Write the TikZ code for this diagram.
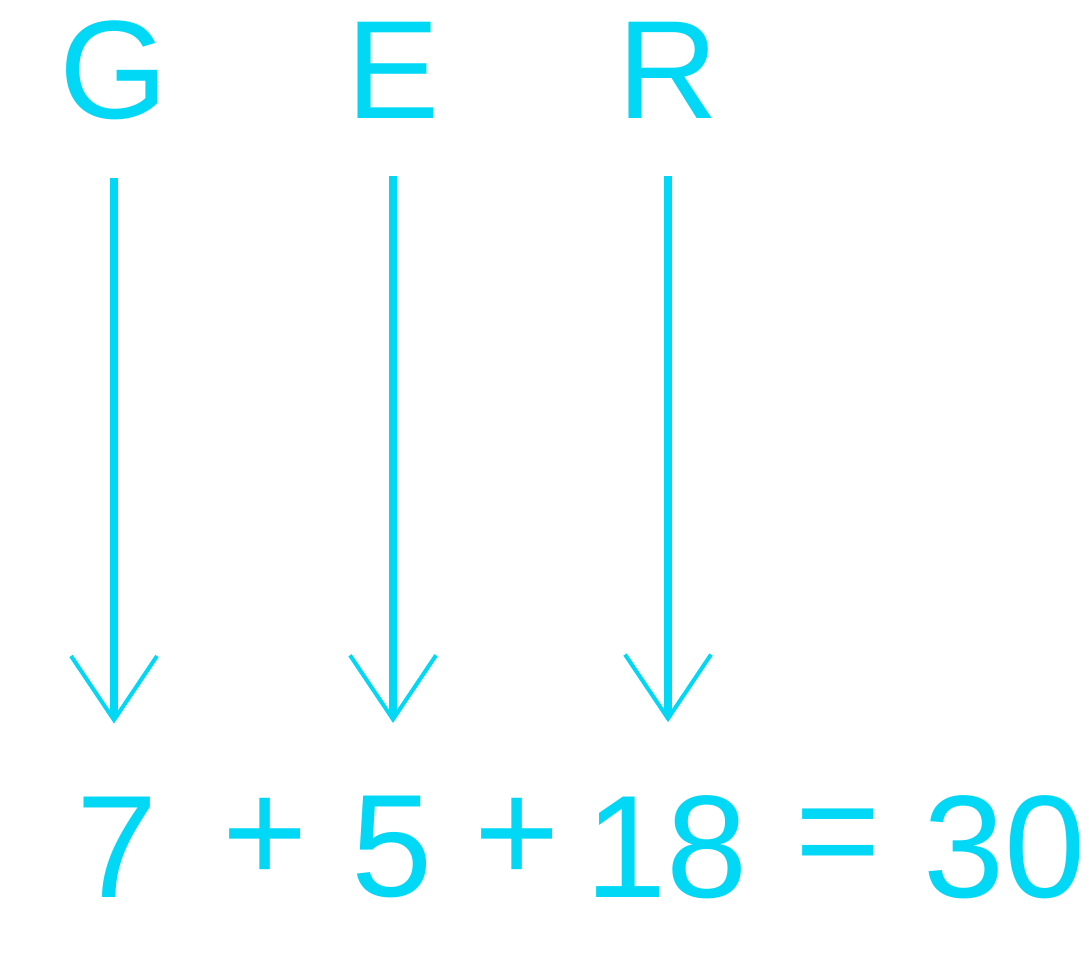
\documentclass[tikz,border=0pt]{standalone}
\usepackage{fontspec}
\setmainfont{Liberation Sans}
\usetikzlibrary{arrows.meta, positioning}
\definecolor{cyanink}{RGB}{0,216,246}

\begin{document}
\begin{tikzpicture}[x=1pt, y=-1pt]
    \tikzset{letter/.style={text=cyanink, inner sep=0pt, font=\fontsize{140}{140}\selectfont}}
    \tikzset{digit/.style={text=cyanink, inner sep=0pt, font=\fontsize{146}{146}\selectfont}}
    \tikzset{link/.style={draw=cyanink, line width=8pt, -{Straight Barb[length=64pt, width=86pt, line width=4pt]}, shorten <=58pt, shorten >=73pt}}
    \useasboundingbox (0,0) rectangle (1089,964);

    % letters on top
    \node [letter] (g) at (114,70) {G};
    \node [letter] (e) at (393,70) {E};
    \node [letter] (r) at (668,70) {R};

    % sum below
    \node [digit] (n7) at (117,847) {7};
    \node [digit] (plusa) at (265,840) {+};
    \node [digit] (n5) at (392,847) {5};
    \node [digit] (plusb) at (517,840) {+};
    \node [digit] (n18) at (667,847) {18};
    \node [digit] (eq) at (838,845) {=};
    \node [digit] (n30) at (1005,847) {30};

    % letter to value arrows
    \draw [link] (g.south) -- (g.south |- n7.north);
    \draw [link] (e.south) -- (e.south |- n5.north);
    \draw [link] (r.south) -- (r.south |- n18.north);
\end{tikzpicture}
\end{document}
